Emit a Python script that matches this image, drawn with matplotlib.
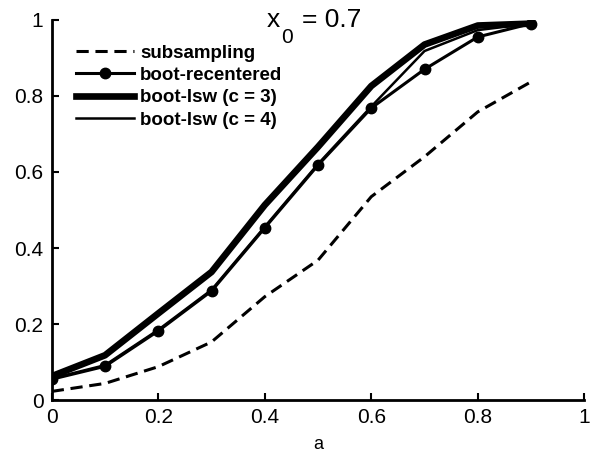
import matplotlib
matplotlib.use("Agg")
import matplotlib.pyplot as plt

a_vals = [0.0, 0.1, 0.2, 0.3, 0.4, 0.5, 0.6, 0.7, 0.8, 0.9]
subsampling = [0.023, 0.044, 0.088, 0.153, 0.272, 0.368, 0.535, 0.640, 0.758, 0.837]
boot_recentered = [0.055, 0.089, 0.182, 0.287, 0.453, 0.618, 0.768, 0.870, 0.955, 0.990]
boot_lsw_c3 = [0.063, 0.118, 0.228, 0.337, 0.513, 0.666, 0.826, 0.935, 0.985, 0.990]
boot_lsw_c4 = [0.057, 0.092, 0.185, 0.290, 0.456, 0.621, 0.772, 0.918, 0.973, 0.990]

xticks = [0, 0.2, 0.4, 0.6, 0.8, 1]
xticklabels = ["0", "0.2", "0.4", "0.6", "0.8", "1"]
yticks = [0, 0.2, 0.4, 0.6, 0.8, 1]
yticklabels = ["0", "0.2", "0.4", "0.6", "0.8", "1"]

font = "Liberation Sans"
fig = plt.figure(figsize=(5.95, 4.61), dpi=100)
ax = fig.add_axes([0.087, 0.132, 0.895, 0.825])

ax.plot(a_vals, subsampling, "k--", lw=2.2, dashes=(4, 2.2), label="subsampling")
ax.plot(a_vals, boot_recentered, "k-", lw=2.2, marker="o", ms=7.5, label="boot-recentered")
ax.plot(a_vals, boot_lsw_c3, "k-", lw=4.8, label="boot-lsw (c = 3)")
ax.plot(a_vals, boot_lsw_c4, "k-", lw=1.8, label="boot-lsw (c = 4)")

ax.set_xlim(0, 1)
ax.set_ylim(0, 1)
ax.set_xticks(xticks)
ax.set_xticklabels(xticklabels, fontsize=15, family=font)
ax.set_yticks(yticks)
ax.set_yticklabels(yticklabels, fontsize=15, family=font)
ax.tick_params(direction="in", length=5, width=1.5, pad=6)
for s in ["top", "right"]:
    ax.spines[s].set_visible(False)
for s in ["left", "bottom"]:
    ax.spines[s].set_linewidth(2)
ax.set_xlabel("a", fontsize=13, family=font, labelpad=6)

# title "x0 = 0.7" with a large lowered subscript
ax.text(0.404, 1.03, "x", fontsize=19, family=font, ha="left", va="top",
        transform=ax.transData, clip_on=False)
ax.text(0.431, 0.978, "0", fontsize=15, family=font, ha="left", va="top",
        transform=ax.transData, clip_on=False)
ax.text(0.469, 1.03, "= 0.7", fontsize=19, family=font, ha="left", va="top",
        transform=ax.transData, clip_on=False)

leg = ax.legend(loc="upper left", bbox_to_anchor=(0.032, 0.955), frameon=False,
                prop={"family": font, "weight": "bold", "size": 13.5},
                handlelength=3.1, handletextpad=0.3, labelspacing=0.28,
                borderaxespad=0)
fig.savefig("out.png", dpi=100)
